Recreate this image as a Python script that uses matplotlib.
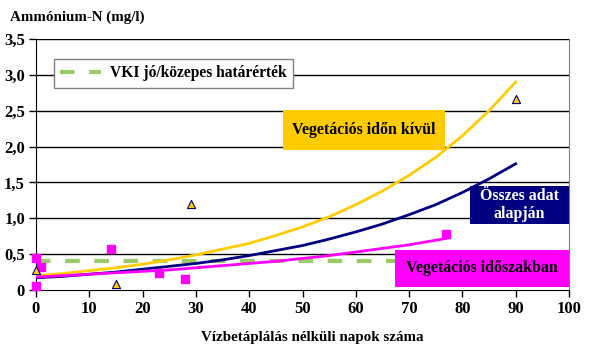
import numpy as np
import matplotlib
matplotlib.use("Agg")
import matplotlib.pyplot as plt
from matplotlib.patches import Rectangle

plt.rcParams['font.family'] = ['Liberation Serif', 'DejaVu Serif']
plt.rcParams['font.weight'] = 'bold'

# measured points (days without water supply, ammonium-N mg/l)
veg_days = [0, 0, 1, 14, 23, 28, 77]
veg_vals = [0.44, 0.06, 0.32, 0.57, 0.24, 0.15, 0.78]

out_days = [0, 15, 29, 90]
out_vals = [0.28, 0.08, 1.20, 2.66]

# trend lines
trend_x = [0, 5, 10, 15, 20, 25, 30, 35, 40, 45, 50, 55, 60, 65, 70, 75, 80, 85, 90]
trend_out = [0.20, 0.23, 0.27, 0.31, 0.36, 0.42, 0.49, 0.57, 0.65, 0.76, 0.88,
             1.02, 1.19, 1.38, 1.60, 1.85, 2.15, 2.50, 2.90]
trend_all = [0.17, 0.19, 0.22, 0.25, 0.29, 0.33, 0.37, 0.42, 0.48, 0.55, 0.62,
             0.71, 0.81, 0.92, 1.05, 1.19, 1.36, 1.55, 1.76]
trend_veg_x = [0, 5, 10, 15, 20, 25, 30, 35, 40, 45, 50, 55, 60, 65, 70, 77]
trend_veg = [0.18, 0.20, 0.22, 0.24, 0.26, 0.28, 0.31, 0.34, 0.37, 0.40, 0.44,
             0.48, 0.53, 0.58, 0.63, 0.72]

limit_x = [0, 100]
limit_y = [0.4, 0.4]

yticks = [0, 0.5, 1.0, 1.5, 2.0, 2.5, 3.0, 3.5]
ytick_labels = ['0', '0,5', '1,0', '1,5', '2,0', '2,5', '3,0', '3,5']

fig = plt.figure(figsize=(5.98, 3.61), dpi=100)
ax = fig.add_axes([36/598, 1-290/361, 533/598, 251/361])

for y in yticks[1:]:
    ax.axhline(y, color='black', lw=1, zorder=1)

ax.plot(limit_x, limit_y, color='#99CC66', lw=3, dashes=(3.5, 3.5),
        label='VKI jó/közepes határérték', zorder=2)

ax.plot(trend_x, trend_out, color='#FFCC00', lw=2, zorder=3)
ax.plot(trend_x, trend_all, color='#000080', lw=2, zorder=3)
ax.plot(trend_veg_x, trend_veg, color='#FF00FF', lw=2, zorder=3)

ax.scatter(veg_days, veg_vals, marker='s', s=30, color='#FF00FF', zorder=4, clip_on=False)
ax.scatter(out_days, out_vals, marker='^', s=34, color='#FFCC00',
           edgecolors='#000080', linewidths=0.8, zorder=4, clip_on=False)

# label boxes
boxes = [
    ((0.4634, 0.5578), 0.304, 0.1594, '#FFCC00', 'Vegetációs időn kívül', 'black'),
    ((0.8143, 0.2629), 0.1857, 0.1514, '#000080', 'Összes adat\nalapján', 'white'),
    ((0.6735, 0.012), 0.3265, 0.1474, '#FF00FF', 'Vegetációs időszakban', 'black'),
]
for xy, w, h, fc, txt, tc in boxes:
    ax.add_patch(Rectangle(xy, w, h, transform=ax.transAxes, facecolor=fc,
                           edgecolor='none', zorder=5, clip_on=False))
    ax.text(xy[0] + w/2, xy[1] + h/2, txt, transform=ax.transAxes, ha='center',
            va='center', color=tc, fontsize=11.4, fontweight='bold', zorder=6,
            linespacing=1.2)

ax.set_xlim(0, 100)
ax.set_ylim(0, 3.5)
ax.set_xticks(range(0, 101, 10))
ax.set_yticks(yticks)
ax.set_yticklabels(ytick_labels)
ax.tick_params(direction='out', length=5, width=1, labelsize=12, pad=3)
for lab in ax.get_xticklabels() + ax.get_yticklabels():
    lab.set_fontweight('bold')

ax.spines['top'].set_visible(False)
ax.spines['right'].set_color('#808080')
ax.spines['left'].set_color('black')
ax.spines['bottom'].set_color('black')

leg = ax.legend(loc='upper left', bbox_to_anchor=(0.034, 0.92), frameon=True,
                fancybox=False, edgecolor='#808080', framealpha=1,
                prop={'size': 11.2, 'weight': 'bold'}, handlelength=2.6,
                handletextpad=0.6, borderpad=0.4, borderaxespad=0)
leg.get_frame().set_linewidth(1)
leg.set_zorder(7)

fig.text(10/598, 1-17/361, 'Ammónium-N (mg/l)', fontsize=10.8, fontweight='bold',
         va='center', ha='left')
fig.text(312/598, 1-337/361, 'Vízbetáplálás nélküli napok száma', fontsize=10.8,
         fontweight='bold', va='center', ha='center')

fig.savefig('out.png', dpi=100)
